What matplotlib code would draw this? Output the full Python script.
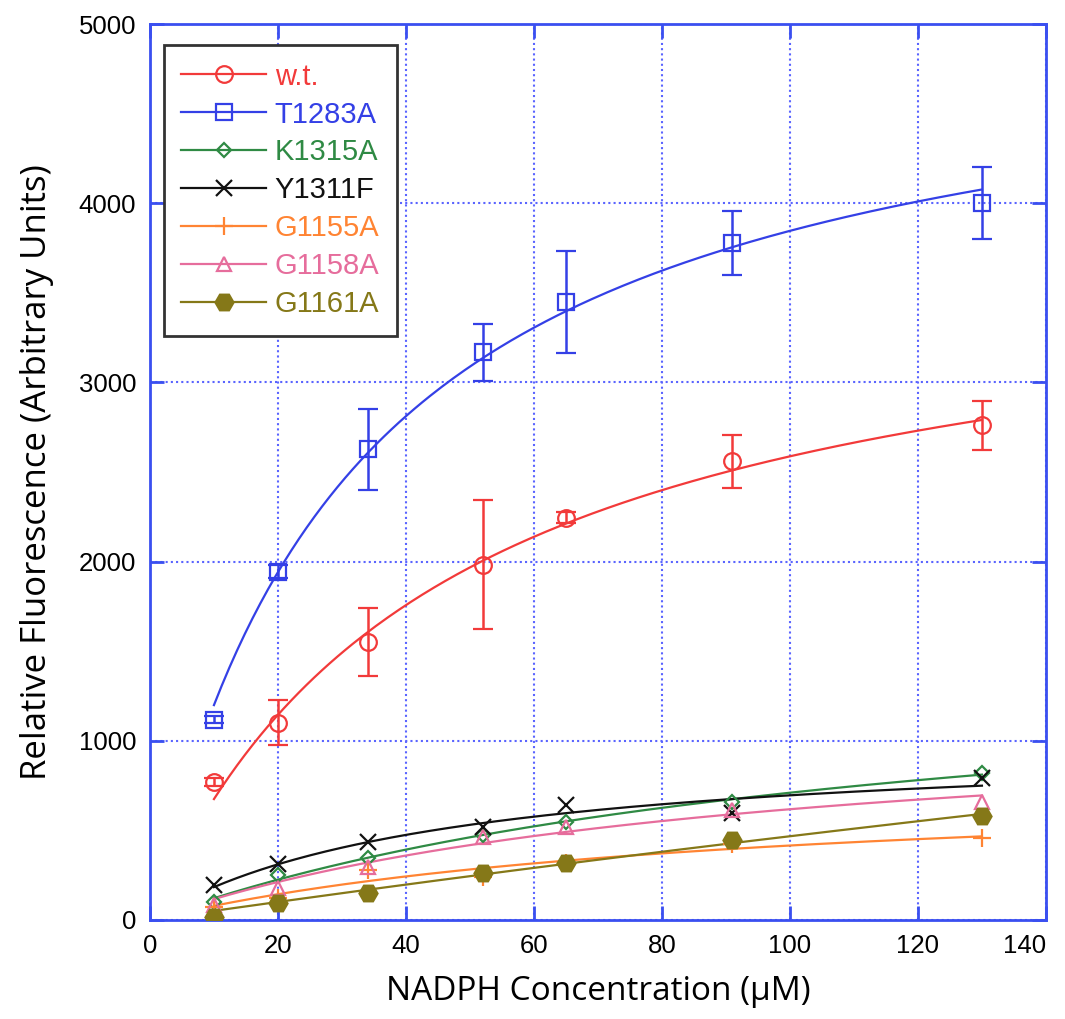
import numpy as np
import matplotlib
matplotlib.use("Agg")
import matplotlib.pyplot as plt
from matplotlib.lines import Line2D

# NADPH concentrations (uM)
nadph = [10, 20, 34, 52, 65, 91, 130]

# relative fluorescence for each construct
wt = [770, 1100, 1553, 1983, 2246, 2559, 2760]
wt_err = [25, 125, 190, 360, 30, 150, 137]
t1283a = [1117, 1944, 2626, 3168, 3447, 3777, 4000]
t1283a_err = [20, 35, 225, 160, 285, 180, 200]
k1315a = [101, 251, 346, 475, 548, 659, 821]
y1311f = [196, 313, 436, 520, 642, 597, 793]
g1155a = [73, 125, 279, 240, 318, 425, 460]
g1158a = [84, 179, 296, 464, 520, 614, 659]
g1161a = [17, 95, 151, 263, 318, 447, 581]

names = ["w.t.", "T1283A", "K1315A", "Y1311F", "G1155A", "G1158A", "G1161A"]
colors = ["#f23a3a", "#3440e6", "#2f8a44", "#111111", "#ff8433", "#e66d9c", "#857818"]
markers = ["o", "s", "D", "x", "+", "^", "H"]
msizes = [12, 11, 7, 12, 13, 10, 13]
series = [wt, t1283a, k1315a, y1311f, g1155a, g1158a, g1161a]
errors = [wt_err, t1283a_err, None, None, None, None, None]


def mm_fit(x, y):
    """Michaelis-Menten least squares: grid over Km, Vmax in closed form."""
    x = np.asarray(x, float)
    y = np.asarray(y, float)
    best = None
    for km in np.linspace(1, 3000, 6000):
        f = x / (km + x)
        vmax = np.sum(y * f) / np.sum(f * f)
        sse = np.sum((y - vmax * f) ** 2)
        if best is None or sse < best[0]:
            best = (sse, vmax, km)
    return best[1], best[2]


plt.rcParams["font.family"] = ["Liberation Sans", "DejaVu Sans"]

fig = plt.figure(figsize=(10.65, 10.19), dpi=100)
ax = fig.add_axes([0.1408, 0.0972, 0.8413, 0.8792])

xs = np.linspace(min(nadph), max(nadph), 200)
handles = []
for name, c, m, ms, ys, err in zip(names, colors, markers, msizes, series, errors):
    vmax, km = mm_fit(nadph, ys)
    ax.plot(xs, vmax * xs / (km + xs), color=c, lw=1.6, zorder=3)
    filled = m == "H"
    ax.errorbar(nadph, ys, yerr=err, fmt=m, color=c, ms=ms,
                mfc=c if filled else "none", mec=c, mew=1.6,
                elinewidth=1.8, capsize=7, capthick=1.8, zorder=4)
    handles.append(Line2D([], [], color=c, lw=1.6, marker=m, ms=ms,
                          mfc=c if filled else "none", mec=c, mew=1.6))

ax.set_xlim(0, 140)
ax.set_ylim(0, 5000)
ax.set_xticks(np.arange(0, 141, 20))
ax.set_yticks(np.arange(0, 5001, 1000))

blue = "#3a4ff0"
for s in ax.spines.values():
    s.set_color(blue)
    s.set_linewidth(2)
ax.tick_params(direction="in", length=10, width=2, color=blue,
               top=True, right=True, labelsize=18.5, pad=10)
ax.get_xticklabels()[-1].set_ha("right")
ax.grid(True, color="#5a64ff", ls=(0, (1, 1.5)), lw=1.5)
ax.set_axisbelow(True)

ax.set_xlabel("NADPH Concentration (µM)", family="Open Sans", fontsize=24, labelpad=12)
ax.set_ylabel("Relative Fluorescence (Arbitrary Units)", family="Open Sans", fontsize=25, labelpad=18)

leg = ax.legend(handles, names, loc="upper left", bbox_to_anchor=(0.0156, 0.9765),
                borderaxespad=0, fontsize=21, handlelength=2.9, handletextpad=0.3,
                labelspacing=0.34, borderpad=0.6, fancybox=False, framealpha=1)
leg.get_frame().set_edgecolor("#333333")
leg.get_frame().set_linewidth(2)
for txt, c in zip(leg.get_texts(), colors):
    txt.set_color(c)

fig.savefig("out.png", dpi=100)
